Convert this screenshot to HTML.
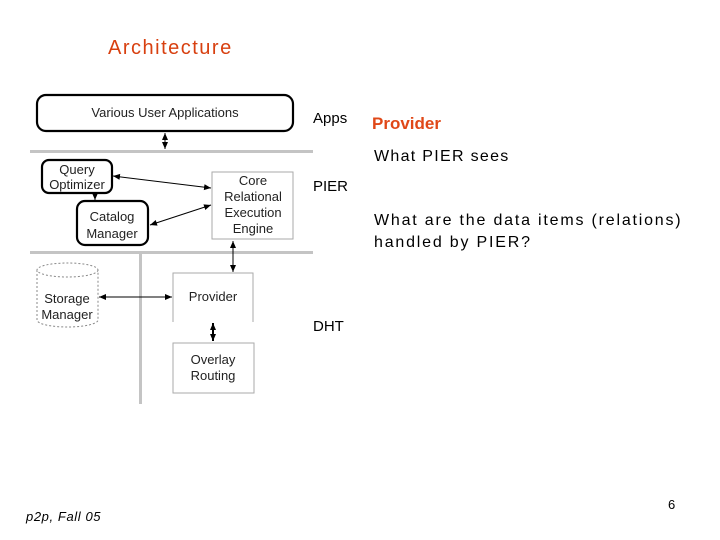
<!DOCTYPE html>
<html><head><meta charset="utf-8"><style>
html,body{margin:0;padding:0;background:#fff;}
svg{display:block;}
.c{font-family:"Liberation Sans",sans-serif;}
</style></head><body>
<svg width="720" height="540" viewBox="0 0 720 540" xmlns="http://www.w3.org/2000/svg">
<defs>
<marker id="a" markerWidth="8" markerHeight="8" refX="7" refY="4" orient="auto-start-reverse" markerUnits="userSpaceOnUse"><path d="M0,1 L7,4 L0,7 z" fill="#000"/></marker>
</defs>
<text x="108" y="54" font-family="Liberation Sans,sans-serif" font-size="20" letter-spacing="1.5" fill="#d84010">Architecture</text>

<rect x="30" y="150" width="283" height="3" fill="#c4c4c4"/>
<rect x="30" y="251" width="283" height="3" fill="#c4c4c4"/>
<rect x="139" y="253" width="3" height="151" fill="#c4c4c4"/>

<rect x="37" y="95" width="256" height="36" rx="9" fill="#fff" stroke="#000" stroke-width="2.2"/>
<g class="c" font-size="13" text-anchor="middle" fill="#222">
<text x="165" y="117">Various User Applications</text>
<rect x="42" y="160" width="70" height="33" rx="7" fill="#fff" stroke="#000" stroke-width="2.2"/>
<text x="77" y="174">Query</text><text x="77" y="189">Optimizer</text>
<rect x="77" y="201" width="71" height="44" rx="8" fill="#fff" stroke="#000" stroke-width="2.2"/>
<text x="112" y="221">Catalog</text><text x="112" y="238">Manager</text>
<rect x="212" y="172" width="81" height="67" fill="#fff" stroke="#aaa" stroke-width="1"/>
<text x="253" y="185">Core</text><text x="253" y="201">Relational</text><text x="253" y="217">Execution</text><text x="253" y="233">Engine</text>
<path d="M37,270 L37,320 A30.5,7 0 0 0 98,320 L98,270" fill="#fff" stroke="#888" stroke-dasharray="2,2"/>
<ellipse cx="67.5" cy="270" rx="30.5" ry="7" fill="#fff" stroke="#888" stroke-dasharray="2,2"/>
<text x="67" y="303">Storage</text><text x="67" y="319">Manager</text>
<path d="M173,322 L173,273 L253,273 L253,322" fill="none" stroke="#aaa"/>
<text x="213" y="301">Provider</text>
<rect x="173" y="343" width="81" height="50" fill="#fff" stroke="#aaa"/>
<text x="213" y="364">Overlay</text><text x="213" y="380">Routing</text>
</g>
<g class="c" font-size="15" fill="#000">
<text x="313" y="123">Apps</text><text x="313" y="191">PIER</text><text x="313" y="331">DHT</text>
</g>
<g stroke="#000" stroke-width="1" fill="none">
<line x1="165" y1="133" x2="165" y2="149" marker-start="url(#a)" marker-end="url(#a)"/>
<line x1="113" y1="176" x2="211" y2="188" marker-start="url(#a)" marker-end="url(#a)"/>
<line x1="150" y1="225" x2="211" y2="205" marker-start="url(#a)" marker-end="url(#a)"/>
<line x1="95" y1="194" x2="95" y2="200" marker-end="url(#a)"/>
<line x1="233" y1="241" x2="233" y2="272" marker-start="url(#a)" marker-end="url(#a)"/>
<line x1="99" y1="297" x2="172" y2="297" marker-start="url(#a)" marker-end="url(#a)"/>
<line x1="213" y1="323" x2="213" y2="341" stroke-width="2" marker-start="url(#a)" marker-end="url(#a)"/>
</g>
<g font-family="Liberation Sans,sans-serif" font-size="16">
<text x="372" y="129" fill="#e04818" font-weight="bold" font-size="17">Provider</text>
<text x="374" y="161" letter-spacing="1.3">What PIER sees</text>
<text x="374" y="225" letter-spacing="1.8">What are the data items (relations)</text>
<text x="374" y="247" letter-spacing="1.8">handled by PIER?</text>
<text x="26" y="521" font-size="13" font-style="italic" letter-spacing="0.6">p2p, Fall 05</text>
<text x="668" y="509" font-size="13">6</text>
</g>
</svg>
</body></html>
